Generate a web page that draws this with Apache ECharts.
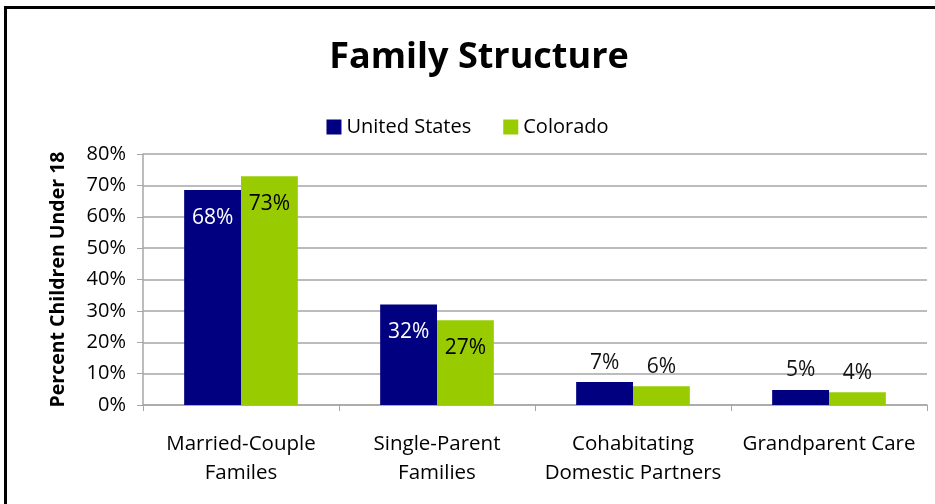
<!DOCTYPE html>
<html>
<head>
<meta charset="utf-8">
<script src="https://cdn.jsdelivr.net/npm/echarts@6/dist/echarts.min.js"></script>
<style>
html,body{margin:0;padding:0;background:#fff;}
#c{width:935px;height:504px;}
</style>
</head>
<body>
<div id="c"></div>
<script>
const categories = ['Married-Couple\nFamiles', 'Single-Parent\nFamilies', 'Cohabitating\nDomestic Partners', 'Grandparent Care'];
const usValues = [68.5, 32, 7.3, 4.8];
const coValues = [72.9, 27, 6, 4.1];
const usLabels = ['68%', '32%', '7%', '5%'];
const coLabels = ['73%', '27%', '6%', '4%'];
const yTicks = [0, 10, 20, 30, 40, 50, 60, 70, 80];

const FONT = 'Open Sans';
function makeData(values, labels, insideColor) {
  return values.map((v, i) => ({
    value: v,
    label: v > 20
      ? { show: true, position: 'insideTop', distance: 17, color: insideColor, formatter: labels[i] }
      : { show: true, position: 'top', distance: 9, color: '#111', formatter: labels[i] }
  }));
}
const chart = echarts.init(document.getElementById('c'));
chart.setOption({
  animation: false,
  textStyle: { fontFamily: FONT },
  title: {
    text: 'Family Structure',
    left: 474, top: 35, textAlign: 'center',
    textStyle: { fontFamily: FONT, fontWeight: 'bold', fontSize: 36, color: '#000' }
  },
  legend: {
    data: ['United States', 'Colorado'],
    left: 'center', top: 112,
    itemWidth: 15, itemHeight: 15, itemGap: 32,
    icon: 'rect',
    textStyle: { fontFamily: FONT, fontSize: 20, color: '#000' }
  },
  graphic: [{
    type: 'rect', shape: { x: 5.5, y: 7.5, width: 940, height: 520 },
    style: { fill: 'none', stroke: '#000', lineWidth: 3 }, silent: true
  }],
  grid: { left: 143, right: 8, top: 154, bottom: 99, containLabel: false },
  xAxis: {
    type: 'category', data: categories,
    axisLine: { lineStyle: { color: '#a6a6a6', width: 1.5 } },
    axisTick: { show: true, length: 6, lineStyle: { color: '#a6a6a6' } },
    axisLabel: { fontFamily: FONT, fontSize: 20.5, color: '#000', margin: 25, lineHeight: 29, interval: 0 }
  },
  yAxis: {
    type: 'value', min: 0, max: 80, interval: 10,
    name: 'Percent Children Under 18', nameLocation: 'middle', nameGap: 75,
    nameTextStyle: { fontFamily: FONT, fontWeight: 'bold', fontSize: 19.5, color: '#000' },
    axisLine: { show: true, lineStyle: { color: '#a6a6a6', width: 1.5 } },
    axisTick: { show: true, length: 6, lineStyle: { color: '#a6a6a6' } },
    splitLine: { lineStyle: { color: '#a6a6a6', width: 1.5 } },
    axisLabel: { fontFamily: FONT, fontSize: 20, color: '#000', margin: 17,
      formatter: v => yTicks.includes(v) ? v + '%' : '' }
  },
  series: [
    { name: 'United States', type: 'bar', data: makeData(usValues, usLabels, '#fff'),
      itemStyle: { color: '#000080' }, barGap: '0%', barCategoryGap: '42%',
      label: { fontFamily: FONT, fontSize: 21 } },
    { name: 'Colorado', type: 'bar', data: makeData(coValues, coLabels, '#000'),
      itemStyle: { color: '#99cc00' }, barGap: '0%', barCategoryGap: '42%',
      label: { fontFamily: FONT, fontSize: 21 } }
  ]
});
</script>
</body>
</html>
